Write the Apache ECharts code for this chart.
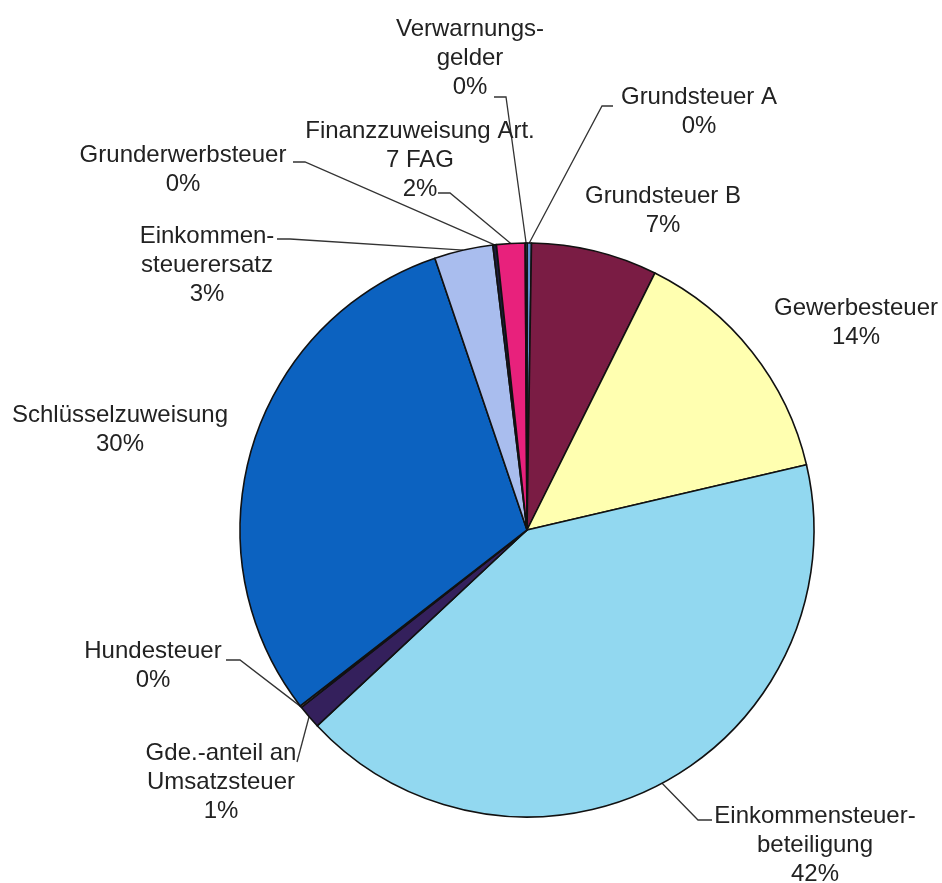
<!DOCTYPE html>
<html>
<head>
<meta charset="utf-8">
<script src="https://cdn.jsdelivr.net/npm/echarts@6/dist/echarts.min.js"></script>
<style>
  html, body { margin: 0; background: #fff; }
  #chart { width: 942px; height: 883px; }
</style>
</head>
<body>
<div id="chart"></div>
<script>
// Anteile am Steueraufkommen (aus dem Bild geschaetzt, in %)
var categories = [
  "Grundsteuer A",
  "Grundsteuer B",
  "Gewerbesteuer",
  "Einkommensteuerbeteiligung",
  "Gde.-anteil an Umsatzsteuer",
  "Hundesteuer",
  "Schlüsselzuweisung",
  "Einkommensteuerersatz",
  "Grunderwerbsteuer",
  "Finanzzuweisung Art. 7 FAG",
  "Verwarnungsgelder"
];
var values = [0.25, 7.1, 14.0, 41.7, 1.35, 0.1, 30.3, 3.3, 0.2, 1.6, 0.1];
// Beschriftung wie im Original umbrochen
var labelText = [
  "Grundsteuer A",
  "Grundsteuer B",
  "Gewerbesteuer",
  "Einkommensteuer-\nbeteiligung",
  "Gde.-anteil an\nUmsatzsteuer",
  "Hundesteuer",
  "Schlüsselzuweisung",
  "Einkommen-\nsteuerersatz",
  "Grunderwerbsteuer",
  "Finanzzuweisung Art.\n7 FAG",
  "Verwarnungs-\ngelder"
];

// Farben und Layout (nicht Daten)
var colors = ["#5f8fd2", "#7a1c44", "#ffffb0", "#92d8f0", "#34205c", "#c89070",
              "#0c62c0", "#a9bdee", "#1c1c3c", "#e8217c", "#7d8fb0"];
// Mittelpunkt der Beschriftung
var labelPos = [
  [699, 112], [663, 211], [856, 323], [815, 845], [221, 782], [153, 666],
  [120, 430], [207, 265], [183, 170], [420, 160], [470, 58]
];
// Fuehrungslinie: [Knick, Ende am Text], null = keine Linie
var leader = [
  [[602, 106], [613, 106]],
  null,
  null,
  [[698, 820], [712, 820]],
  [[297, 762], [297, 762]],
  [[240, 660], [226, 660]],
  null,
  [[290, 239], [277, 239]],
  [[305, 162], [293, 162]],
  [[450, 193], [438, 193]],
  [[506, 97], [494, 97]]
];

var total = values.reduce(function (a, b) { return a + b; }, 0);

var data = categories.map(function (name, i) {
  return {
    name: name,
    value: values[i],
    itemStyle: { color: colors[i] },
    labelLine: { show: leader[i] !== null }
  };
});

var chart = echarts.init(document.getElementById("chart"), null, { renderer: "canvas" });

chart.setOption({
  animation: false,
  backgroundColor: "#ffffff",
  series: [{
    type: "pie",
    center: [527, 530],
    radius: 287,
    startAngle: 90,
    clockwise: true,
    avoidLabelOverlap: false,
    data: data,
    itemStyle: { borderColor: "#111111", borderWidth: 1.6 },
    emphasis: { disabled: true },
    label: {
      show: true,
      position: "outside",
      fontFamily: "Liberation Sans, Arial, sans-serif",
      fontSize: 24,
      lineHeight: 29,
      color: "#222222",
      align: "center",
      formatter: function (p) {
        return labelText[p.dataIndex] + "\n" + Math.round(p.value / total * 100) + "%";
      }
    },
    labelLine: {
      show: true,
      length: 10,
      length2: 10,
      lineStyle: { color: "#333333", width: 1.3 }
    },
    labelLayout: function (params) {
      var i = params.dataIndex;
      var res = {
        x: labelPos[i][0],
        y: labelPos[i][1],
        align: "center",
        verticalAlign: "middle"
      };
      if (leader[i] && params.labelLinePoints) {
        var p0 = params.labelLinePoints[0];
        res.labelLinePoints = [p0, leader[i][0], leader[i][1]];
      }
      return res;
    }
  }]
});
</script>
</body>
</html>
